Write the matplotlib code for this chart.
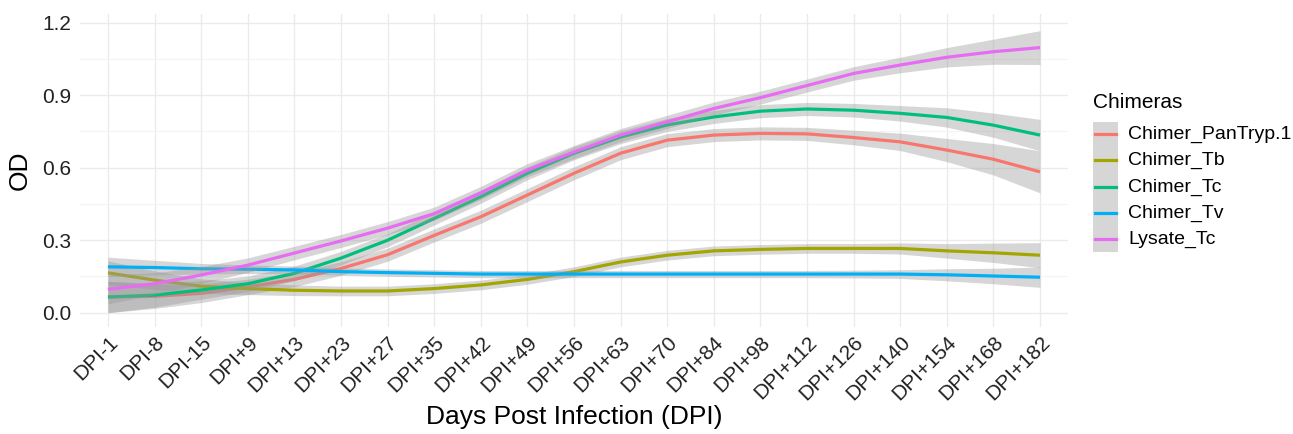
import matplotlib
matplotlib.use("Agg")
import matplotlib.pyplot as plt
from matplotlib.patches import Rectangle
from matplotlib.lines import Line2D
import numpy as np

plt.rcParams['font.family'] = ['Liberation Sans', 'DejaVu Sans']

categories = ["DPI-1", "DPI-8", "DPI-15", "DPI+9", "DPI+13", "DPI+23", "DPI+27",
              "DPI+35", "DPI+42", "DPI+49", "DPI+56", "DPI+63", "DPI+70", "DPI+84",
              "DPI+98", "DPI+112", "DPI+126", "DPI+140", "DPI+154", "DPI+168", "DPI+182"]

series_names = ["Chimer_PanTryp.1", "Chimer_Tb", "Chimer_Tc", "Chimer_Tv", "Lysate_Tc"]
colors = ["#F8766D", "#A3A500", "#00BF7D", "#00B0F6", "#E76BF3"]

pantryp = [0.065, 0.068, 0.080, 0.107, 0.138, 0.183, 0.240, 0.320, 0.397, 0.487, 0.577,
           0.660, 0.714, 0.735, 0.742, 0.740, 0.725, 0.707, 0.673, 0.635, 0.583]
tb = [0.165, 0.135, 0.110, 0.100, 0.093, 0.090, 0.090, 0.100, 0.115, 0.138, 0.170,
      0.210, 0.238, 0.256, 0.262, 0.266, 0.266, 0.266, 0.256, 0.248, 0.238]
tc = [0.065, 0.073, 0.094, 0.120, 0.163, 0.226, 0.300, 0.390, 0.480, 0.577, 0.660,
      0.727, 0.777, 0.810, 0.834, 0.843, 0.838, 0.825, 0.808, 0.776, 0.735]
tv = [0.190, 0.187, 0.182, 0.180, 0.177, 0.170, 0.166, 0.163, 0.160, 0.160, 0.160,
      0.160, 0.160, 0.160, 0.160, 0.160, 0.160, 0.160, 0.157, 0.152, 0.147]
lysate = [0.097, 0.120, 0.156, 0.197, 0.247, 0.297, 0.350, 0.410, 0.496, 0.590, 0.665,
          0.735, 0.790, 0.845, 0.890, 0.940, 0.990, 1.025, 1.057, 1.080, 1.097]

# half-widths of the confidence bands
pantryp_se = [0.065, 0.050, 0.038, 0.032, 0.030, 0.028, 0.027, 0.027, 0.027, 0.027, 0.027,
              0.027, 0.027, 0.027, 0.027, 0.027, 0.030, 0.036, 0.048, 0.065, 0.087]
tb_se = [0.050, 0.038, 0.030, 0.025, 0.022, 0.020, 0.020, 0.020, 0.020, 0.020, 0.020,
         0.020, 0.020, 0.020, 0.020, 0.020, 0.020, 0.023, 0.030, 0.040, 0.052]
tc_se = [0.065, 0.050, 0.038, 0.032, 0.030, 0.028, 0.027, 0.027, 0.027, 0.027, 0.027,
         0.027, 0.027, 0.027, 0.027, 0.027, 0.028, 0.032, 0.040, 0.050, 0.065]
tv_se = [0.040, 0.030, 0.022, 0.018, 0.016, 0.015, 0.015, 0.015, 0.015, 0.015, 0.015,
         0.015, 0.015, 0.015, 0.015, 0.015, 0.016, 0.018, 0.025, 0.032, 0.042]
lysate_se = [0.060, 0.045, 0.035, 0.030, 0.028, 0.027, 0.027, 0.027, 0.027, 0.027, 0.027,
             0.027, 0.027, 0.027, 0.027, 0.027, 0.028, 0.032, 0.040, 0.052, 0.070]

values = [pantryp, tb, tc, tv, lysate]
ses = [pantryp_se, tb_se, tc_se, tv_se, lysate_se]

W, H = 1293, 434
fig = plt.figure(figsize=(W / 100, H / 100), dpi=100)
ax = fig.add_axes([80 / W, 1 - 327 / H, (1068 - 80) / W, (327 - 14) / H])

x = np.arange(len(categories))
z = 3
for name, col, v, s in zip(series_names, colors, values, ses):
    v = np.array(v); s = np.array(s)
    ax.fill_between(x, v - s, v + s, color="#999999", alpha=0.4, linewidth=0, zorder=z)
    ax.plot(x, v, color=col, lw=2.3, zorder=z + 1, solid_capstyle="butt")
    z += 2

ax.set_xlim(-0.6, len(categories) - 1 + 0.6)
ax.set_ylim(-0.059, 1.236)
ax.set_xticks(x)
ax.set_xticklabels(categories, rotation=45, ha="right", va="top", rotation_mode="anchor")
ax.set_yticks([0.0, 0.3, 0.6, 0.9, 1.2])
ax.set_yticklabels(["0.0", "0.3", "0.6", "0.9", "1.2"])
ax.set_yticks([0.15, 0.45, 0.75, 1.05], minor=True)

for sp in ax.spines.values():
    sp.set_visible(False)
ax.tick_params(axis="both", which="both", length=0, labelsize=15, labelcolor="#222222")
ax.tick_params(axis="x", pad=4)
ax.tick_params(axis="y", pad=6)
ax.grid(True, which="major", color="#EBEBEB", lw=1.0, zorder=0)
ax.grid(True, which="minor", axis="y", color="#F4F4F4", lw=0.8, zorder=0)
ax.set_axisbelow(True)

ax.set_ylabel("OD", fontsize=19, color="black", labelpad=8)
ax.set_xlabel("Days Post Infection (DPI)", fontsize=19, color="black", labelpad=1)

# legend
def fx(px): return px / W
def fy(py): return 1 - py / H

fig.text(fx(1093), fy(102), "Chimeras", fontsize=15, va="center", ha="left", color="black")
fig.add_artist(Rectangle((fx(1093), fy(252)), fx(1118) - fx(1093), fy(122) - fy(252),
                         transform=fig.transFigure, facecolor="#D6D6D6", edgecolor="none"))
ys = [134, 160, 187, 213, 239]
for name, col, yy in zip(series_names, colors, ys):
    fig.add_artist(Line2D([fx(1095), fx(1116)], [fy(yy), fy(yy)], transform=fig.transFigure,
                          color=col, lw=2.3))
    fig.text(fx(1128), fy(yy), name, fontsize=14, va="center", ha="left", color="black")

fig.savefig("out.png", dpi=100)
